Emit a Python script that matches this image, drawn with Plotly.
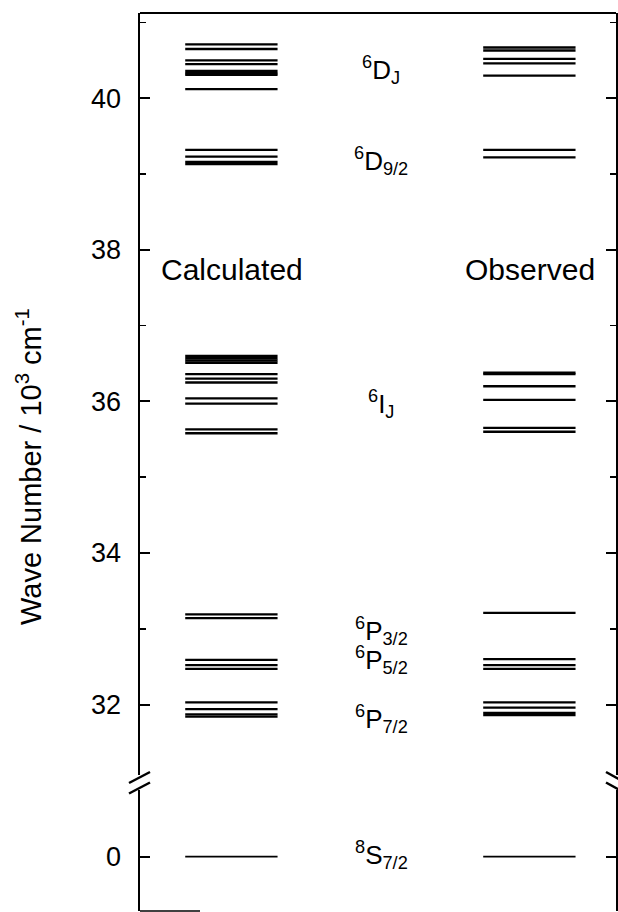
import plotly.graph_objects as go

# ---------------- data (10^3 cm^-1) ----------------
calc_levels = [40.71, 40.65, 40.50, 40.45, 40.36, 40.33, 40.31, 40.12,
               39.32, 39.23, 39.16, 39.13,
               36.60, 36.57, 36.54, 36.51, 36.36, 36.30, 36.25, 36.04, 35.97, 35.63, 35.58,
               33.19, 33.14, 32.59, 32.52, 32.47, 32.03, 31.94, 31.87, 31.84,
               0.0]
obs_levels = [40.67, 40.63, 40.52, 40.46, 40.30,
              39.32, 39.22,
              36.38, 36.36, 36.20, 36.02, 35.65, 35.60,
              33.21, 32.60, 32.52, 32.47, 32.03, 31.96, 31.89, 31.86,
              0.0]
column_names = ["Calculated", "Observed"]
column_centers = [1.92, 8.18]
half_width = 0.97

term_labels = ["<sup>6</sup>D<sub>J</sub>", "<sup>6</sup>D<sub>9/2</sub>", "<sup>6</sup>I<sub>J</sub>",
               "<sup>6</sup>P<sub>3/2</sub>", "<sup>6</sup>P<sub>5/2</sub>", "<sup>6</sup>P<sub>7/2</sub>",
               "<sup>8</sup>S<sub>7/2</sub>"]
term_values = [40.37, 39.17, 35.96, 32.97, 32.59, 31.81, 0.02]
term_x = 5.07

upper_ticks = [32, 34, 36, 38, 40]
upper_minor = [31, 33, 35, 37, 39, 41]
lower_ticks = [0]

FONT = "Liberation Sans, Arial, Helvetica, sans-serif"
W, H = 618, 912
ML, MR, MT, MB = 140, 2, 13, 1
PW, PH = W - ML - MR, H - MT - MB


def px(x):
    return (x - ML) / PW


def py(y):
    return (H - MB - y) / PH


BREAK_TOP_PX, BREAK_BOT_PX = 775, 790
upper_domain = [py(BREAK_TOP_PX), 1]
lower_domain = [0, py(BREAK_BOT_PX)]
upper_range = [31.071, 41.125]
lower_range = [-0.716, 0.88]

fig = go.Figure()


def add_levels(levels, center):
    up_x, up_y, lo_x, lo_y = [], [], [], []
    for v in levels:
        xs = [center - half_width, center + half_width, None]
        ys = [v, v, None]
        if v > 10:
            up_x += xs
            up_y += ys
        else:
            lo_x += xs
            lo_y += ys
    fig.add_trace(go.Scatter(x=up_x, y=up_y, mode="lines", yaxis="y",
                             line=dict(color="black", width=2.3), showlegend=False,
                             hoverinfo="skip"))
    fig.add_trace(go.Scatter(x=lo_x, y=lo_y, mode="lines", yaxis="y2",
                             line=dict(color="black", width=1.7), showlegend=False,
                             hoverinfo="skip"))


add_levels(calc_levels, column_centers[0])
add_levels(obs_levels, column_centers[1])

annotations = []
for name, cx in zip(column_names, column_centers):
    annotations.append(dict(x=cx + 0.01, y=37.74, xref="x", yref="y", text=name,
                            showarrow=False, font=dict(size=30, family=FONT, color="black")))
for lab, v in zip(term_labels, term_values):
    annotations.append(dict(x=term_x, y=v, xref="x", yref="y" if v > 10 else "y2",
                            text=lab, showarrow=False,
                            font=dict(size=26, family=FONT, color="black")))
annotations.append(dict(x=px(29), y=py(467), xref="paper", yref="paper",
                        xanchor="center", yanchor="middle",
                        text="Wave Number / 10<sup>3</sup> cm<sup>-1</sup>",
                        textangle=-90, showarrow=False,
                        font=dict(size=29, family=FONT, color="black")))

axis_style = dict(showgrid=False, zeroline=False, showline=True, linecolor="black",
                  linewidth=1.6, mirror="ticks", ticks="inside", ticklen=10, tickwidth=2,
                  tickcolor="black", tickfont=dict(size=27, family=FONT, color="black"),
                  ticklabelstandoff=12, anchor="x")

shapes = [
    dict(type="line", xref="paper", yref="paper", x0=0, x1=1, y0=1, y1=1,
         line=dict(color="black", width=2)),
    dict(type="line", xref="paper", yref="paper", x0=0, x1=px(200), y0=0, y1=0,
         line=dict(color="black", width=1.5)),
]
for yc in (777.5, 788):
    shapes.append(dict(type="line", xref="paper", yref="paper",
                       x0=px(129), y0=py(yc + 5.5), x1=px(150), y1=py(yc - 5.5),
                       line=dict(color="black", width=2.5)))
    shapes.append(dict(type="line", xref="paper", yref="paper",
                       x0=px(606), y0=py(yc - 5.5), x1=px(626), y1=py(yc + 5.5),
                       line=dict(color="black", width=2.5)))

fig.update_layout(
    width=W, height=H,
    margin=dict(l=ML, r=MR, t=MT, b=MB, pad=0),
    paper_bgcolor="white", plot_bgcolor="white",
    xaxis=dict(range=[0, 10], visible=False, showgrid=False, zeroline=False, anchor="y2"),
    yaxis=dict(domain=upper_domain, range=upper_range, tickmode="array",
               tickvals=upper_ticks, ticktext=[str(t) for t in upper_ticks],
               minor=dict(tickmode="array", tickvals=upper_minor, ticks="inside",
                          ticklen=6, tickwidth=1.5, tickcolor="black"),
               **axis_style),
    yaxis2=dict(domain=lower_domain, range=lower_range, tickmode="array",
                tickvals=lower_ticks, ticktext=[str(t) for t in lower_ticks],
                **axis_style),
    annotations=annotations,
    shapes=shapes,
    showlegend=False,
)

fig.write_html("out.html",
               config={"displayModeBar": False, "staticPlot": True},
               post_script="document.body.style.margin='0px';document.body.style.overflow='hidden';")
